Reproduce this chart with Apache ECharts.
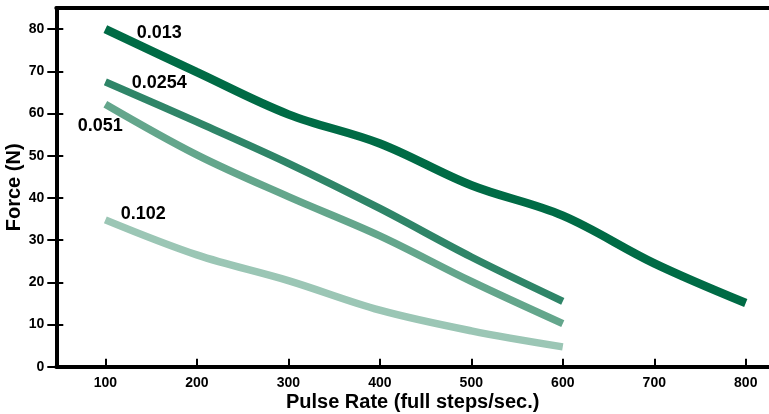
<!DOCTYPE html>
<html>
<head>
<meta charset="utf-8">
<script src="https://cdn.jsdelivr.net/npm/echarts@6/dist/echarts.min.js"></script>
<style>
html,body{margin:0;padding:0;background:#fff;}
#chart{width:769px;height:414px;}
</style>
</head>
<body>
<div id="chart"></div>
<script>
// ---- data ----
var pulseRates = [100, 200, 300, 400, 500, 600, 700, 800];
var xTickValues = [100, 200, 300, 400, 500, 600, 700, 800];
var yTickValues = [0, 10, 20, 30, 40, 50, 60, 70, 80];
var seriesNames = ['0.013', '0.0254', '0.051', '0.102'];
var force013  = [80, 69.8, 59.8, 52.9, 43, 35.8, 24.5, 15.1];
var force0254 = [67.5, 58, 48.2, 37.5, 26, 15.5];
var force051  = [62.2, 50.2, 40.3, 31, 20.2, 10.2];
var force102  = [34.8, 26.5, 20.4, 13.4, 8.5, 4.7];
var xAxisTitle = 'Pulse Rate (full steps/sec.)';
var yAxisTitle = 'Force (N)';

// ---- styling ----
var colors = ['#006B45', '#2F8568', '#64A68C', '#9BC6B5'];
var widths = [8.5, 7.5, 7.5, 7.5];
var labelOffsets = [[54, 4], [54, 1], [-5, 22], [38, -6]];
var FONT = '"Liberation Sans", Arial, sans-serif';
var xMin = 46.4, xMax = 825.4, yMin = 0, yMax = 85;

function makeSeries(idx, values) {
  var data = values.map(function (v, i) {
    var item = { value: [pulseRates[i], v] };
    if (i === 0) {
      item.label = {
        show: true,
        formatter: seriesNames[idx],
        position: 'inside',
        offset: labelOffsets[idx],
        color: '#000',
        fontFamily: FONT,
        fontWeight: 'bold',
        fontSize: 18
      };
    }
    return item;
  });
  return {
    name: seriesNames[idx],
    type: 'line',
    smooth: 0.35,
    showSymbol: true,
    symbol: 'circle',
    symbolSize: 1,
    itemStyle: { color: 'rgba(0,0,0,0)' },
    lineStyle: { color: colors[idx], width: widths[idx], cap: 'butt' },
    label: { show: false },
    emphasis: { disabled: true },
    silent: true,
    animation: false,
    z: 5 - idx,
    data: data
  };
}

var chart = echarts.init(document.getElementById('chart'), null, { renderer: 'canvas' });
chart.setOption({
  animation: false,
  backgroundColor: '#ffffff',
  grid: { left: 56.3, right: 0, top: 8, bottom: 47.3, containLabel: false, outerBoundsMode: 'none' },
  xAxis: [
    {
      type: 'value', position: 'bottom', min: xMin, max: xMax,
      splitLine: { show: false },
      axisLine: { show: true, onZero: false, lineStyle: { color: '#000', width: 4 } },
      axisTick: { show: true, inside: true, length: 8, lineStyle: { color: '#000', width: 2 }, customValues: xTickValues },
      axisLabel: { show: true, customValues: xTickValues, color: '#000', fontFamily: FONT, fontWeight: 'bold', fontSize: 14, margin: 9 },
      name: xAxisTitle, nameLocation: 'middle', nameGap: 26, nameMoveOverlap: false,
      nameTextStyle: { color: '#000', fontFamily: FONT, fontWeight: 'bold', fontSize: 20 }
    },
    {
      type: 'value', position: 'top', min: xMin, max: xMax,
      splitLine: { show: false },
      axisLine: { show: true, onZero: false, lineStyle: { color: '#000', width: 4 } },
      axisTick: { show: false }, axisLabel: { show: false }
    }
  ],
  yAxis: [
    {
      type: 'value', position: 'left', min: yMin, max: yMax,
      splitLine: { show: false },
      axisLine: { show: true, onZero: false, lineStyle: { color: '#000', width: 4 } },
      axisTick: { show: true, inside: false, length: 9, lineStyle: { color: '#000', width: 2 }, customValues: yTickValues },
      axisLabel: { show: true, customValues: yTickValues, color: '#000', fontFamily: FONT, fontWeight: 'bold', fontSize: 14, margin: 12 },
      name: yAxisTitle, nameLocation: 'middle', nameGap: 32, nameMoveOverlap: false,
      nameTextStyle: { color: '#000', fontFamily: FONT, fontWeight: 'bold', fontSize: 20 }
    },
    {
      type: 'value', position: 'left', offset: 0, min: yMin, max: yMax,
      splitLine: { show: false },
      axisLine: { show: false, onZero: false },
      axisTick: { show: true, inside: true, length: 7, lineStyle: { color: '#000', width: 2 }, customValues: yTickValues },
      axisLabel: { show: false }
    }
  ],
  series: [
    makeSeries(0, force013),
    makeSeries(1, force0254),
    makeSeries(2, force051),
    makeSeries(3, force102)
  ]
});
</script>
</body>
</html>
